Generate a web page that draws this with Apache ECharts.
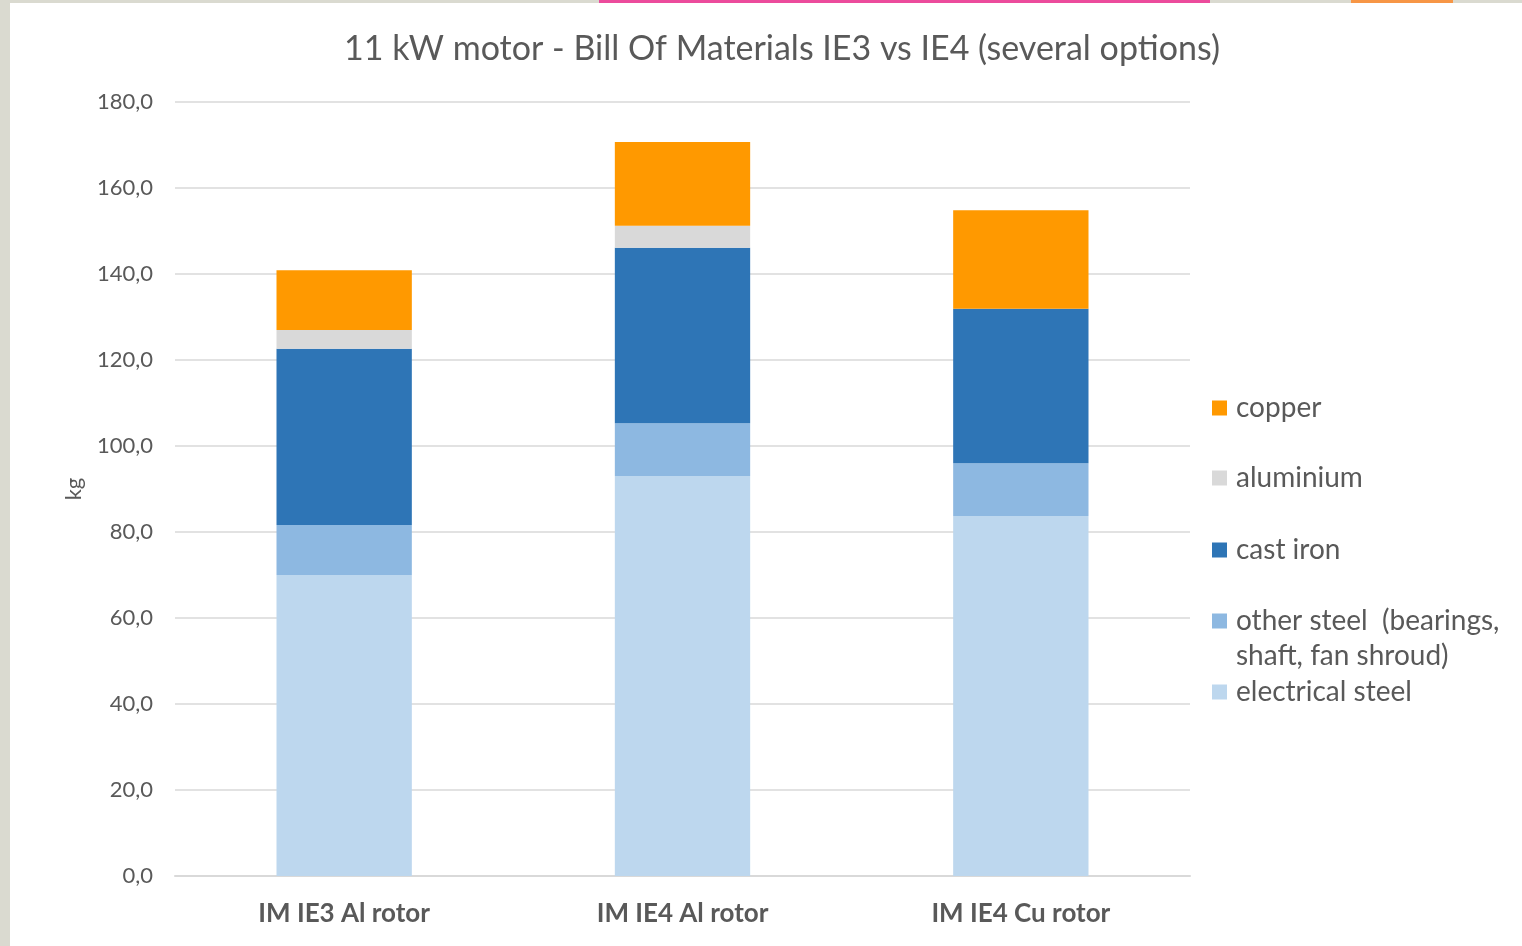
<!DOCTYPE html>
<html>
<head>
<meta charset="utf-8">
<title>11 kW motor - Bill Of Materials</title>
<script src="https://cdn.jsdelivr.net/npm/echarts@6/dist/echarts.min.js"></script>
<style>
  html, body { margin: 0; padding: 0; background: #ffffff; }
  #chart { width: 1522px; height: 946px; }
</style>
</head>
<body>
<div id="chart"></div>
<script>
// Motor variants on the category axis
const categories = ['IM IE3 Al rotor', 'IM IE4 Al rotor', 'IM IE4 Cu rotor'];

// Mass per material, kg (stacked bottom to top)
const electricalSteel = [70.0, 93.0, 83.7];
const otherSteel      = [11.6, 12.3, 12.3];
const castIron        = [41.0, 40.8, 35.9];
const aluminium       = [4.4, 5.1, 0];
const copper          = [13.9, 19.5, 22.9];

// Value axis ticks
const yTicks = [0, 20, 40, 60, 80, 100, 120, 140, 160, 180];

const FONT = 'Lato, "Open Sans", sans-serif';
const GREY_TEXT = '#595959';

const seriesDefs = [
  { name: 'electrical steel', data: electricalSteel, color: '#BDD7EE' },
  { name: 'other steel  (bearings,', data: otherSteel, color: '#8DB8E1' },
  { name: 'cast iron', data: castIron, color: '#2E75B6' },
  { name: 'aluminium', data: aluminium, color: '#D9D9D9' },
  { name: 'copper', data: copper, color: '#FF9900' }
];

// One legend block per entry so each row sits at its own height
function legendAt(name, top) {
  return {
    data: [name],
    left: 1212,
    top: top,
    orient: 'vertical',
    icon: 'rect',
    itemWidth: 15,
    itemHeight: 15,
    itemGap: 0,
    padding: 0,
    selectedMode: false,
    textStyle: { fontFamily: FONT, fontSize: 28, color: GREY_TEXT, lineHeight: 36, padding: [0, 0, 0, 4] }
  };
}

const chart = echarts.init(document.getElementById('chart'), null, { renderer: 'canvas' });

chart.setOption({
  backgroundColor: '#ffffff',
  animation: false,
  title: {
    text: '11 kW motor - Bill Of Materials IE3 vs IE4 (several options)',
    left: 777,
    textAlign: 'center',
    top: 27,
    textStyle: { fontFamily: FONT, fontSize: 34, fontWeight: 'normal', color: GREY_TEXT }
  },
  legend: [
    legendAt('copper', 390),
    legendAt('aluminium', 460),
    legendAt('cast iron', 532),
    legendAt('other steel  (bearings,', 603),
    legendAt('electrical steel', 674)
  ],
  graphic: [
    // page frame strips
    { type: 'rect', shape: { x: 0, y: 0, width: 10, height: 946 }, style: { fill: '#DADAD0' }, silent: true },
    { type: 'rect', shape: { x: 0, y: 0, width: 1522, height: 3 }, style: { fill: '#DADAD0' }, silent: true },
    { type: 'rect', shape: { x: 599, y: 0, width: 611, height: 3 }, style: { fill: '#EC4B9C' }, silent: true },
    { type: 'rect', shape: { x: 1351, y: 0, width: 102, height: 3 }, style: { fill: '#F79646' }, silent: true },
    // continuation line of the "other steel" legend entry
    {
      type: 'text', left: 1236, top: 642, silent: true,
      style: { text: 'shaft, fan shroud)', font: '28px ' + FONT, fill: GREY_TEXT }
    }
  ],
  grid: { left: 175, right: 332, top: 102, bottom: 70 },
  xAxis: {
    type: 'category',
    data: categories,
    axisTick: { show: false },
    axisLine: { lineStyle: { color: '#D9D9D9', width: 2 } },
    axisLabel: { fontFamily: FONT, fontSize: 26, fontWeight: 'bold', color: GREY_TEXT, margin: 25 }
  },
  yAxis: {
    type: 'value',
    min: yTicks[0],
    max: yTicks[yTicks.length - 1],
    interval: yTicks[1] - yTicks[0],
    name: 'kg',
    nameLocation: 'middle',
    nameRotate: 90,
    nameGap: 90,
    nameTextStyle: { fontFamily: FONT, fontSize: 22, color: GREY_TEXT },
    axisLine: { show: false },
    axisTick: { show: false },
    splitLine: { lineStyle: { color: '#D9D9D9', width: 1.5 } },
    axisLabel: {
      fontFamily: FONT, fontSize: 22, color: GREY_TEXT, margin: 22,
      formatter: v => v.toFixed(1).replace('.', ',')
    }
  },
  series: seriesDefs.map(s => ({
    name: s.name,
    type: 'bar',
    stack: 'bom',
    barWidth: '40%',
    data: s.data,
    itemStyle: { color: s.color },
    emphasis: { disabled: true }
  }))
});
</script>
</body>
</html>
